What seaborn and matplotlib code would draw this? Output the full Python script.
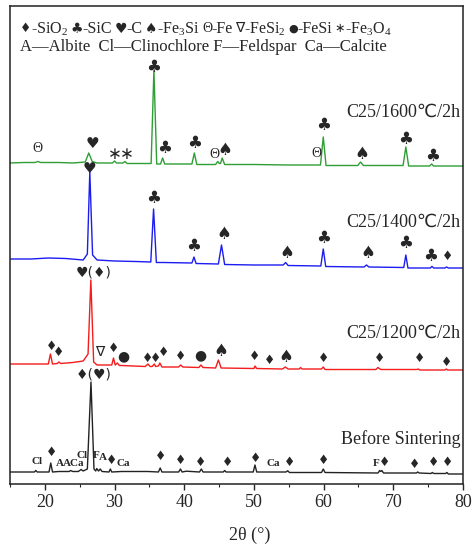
import matplotlib
matplotlib.use("Agg")
import matplotlib.pyplot as plt
import numpy as np
import pandas as pd
import seaborn as sns

# ---------------------------------------------------------------------------
# XRD patterns (2-theta in degrees, intensity in arbitrary units above each
# pattern's own baseline). Each pattern is stacked with a vertical offset.
# ---------------------------------------------------------------------------
tt_1600 = [15.0, 17.0, 18.6, 19.0, 19.4, 22.0, 24.0, 25.8, 26.3, 26.8, 27.5, 29.7, 30.0, 30.3,
           31.2, 31.5, 31.8, 33.5, 35.25, 35.65, 36.05, 36.6, 36.9, 37.2, 39.0, 41.1, 41.45, 41.8,
           44.5, 44.8, 45.05, 45.2, 45.45, 45.8, 50.0, 55.0, 59.55, 59.95, 60.35, 64.9, 65.3, 65.7,
           68.0, 71.4, 71.8, 72.2, 75.2, 75.5, 75.8, 78.0, 80.0]
ii_1600 = [0.0, 0.5, 0.5, 1.5, 0.5, 0.5, 0.0, 1.0, 10.0, 1.5, 0.0, 0.0, 2.0, 0.0,
           0.0, 1.5, -0.5, -0.5, -0.5, 93.0, -1.0, -1.0, 5.0, -1.0, -1.0, -1.0, 10.0, -1.5,
           -1.5, 1.5, -0.5, -0.5, 5.0, -1.5, -1.5, -2.0, -2.0, 26.0, -2.5, -2.5, 1.0, -2.5,
           -2.5, -2.5, 16.0, -3.0, -3.0, -1.0, -3.0, -3.0, -3.0]

tt_1400 = [15.0, 18.0, 20.5, 23.0, 25.5, 26.1, 26.45, 26.85, 27.5, 30.0, 33.0, 35.2, 35.6, 36.0,
           37.0, 41.1, 41.4, 41.7, 44.9, 45.35, 45.8, 50.0, 54.2, 54.55, 54.9, 59.6, 59.95, 60.3,
           65.8, 66.15, 66.5, 71.5, 71.8, 72.1, 75.3, 75.55, 75.8, 77.4, 77.65, 77.9, 80.0]
ii_1400 = [0.0, 0.0, 1.0, 0.5, -1.0, 5.0, 87.0, 4.0, -1.0, -2.0, -2.5, -3.0, 50.0, -3.5,
           -3.5, -4.0, 2.0, -4.5, -5.0, 14.0, -5.5, -6.0, -6.0, -3.5, -6.5, -7.0, 10.0, -7.5,
           -8.0, -6.0, -8.0, -8.5, 4.0, -9.0, -9.0, -7.5, -9.0, -9.0, -8.0, -9.0, -9.0]

tt_1200 = [15.0, 19.0, 20.5, 20.8, 21.1, 21.8, 22.0, 22.3, 24.0, 25.5, 26.2, 26.6, 27.0, 27.5,
           28.5, 29.6, 29.85, 30.1, 30.4, 30.7, 31.0, 34.4, 34.8, 35.1, 35.4, 35.7, 35.9, 36.3,
           36.5, 36.8, 39.2, 39.5, 39.8, 42.1, 42.4, 42.7, 44.5, 44.9, 45.3, 50.0, 50.15, 50.4,
           54.1, 54.5, 54.9, 56.5, 56.7, 56.9, 59.7, 59.95, 60.2, 67.5, 67.8, 68.2, 73.4, 73.6,
           73.8, 77.4, 77.6, 77.8, 80.0]
ii_1200 = [0.0, 0.0, 0.0, 10.0, 0.0, 0.5, 2.0, 0.5, 1.5, 3.0, 10.0, 84.0, 2.0, -1.0,
           -1.0, -1.0, 6.0, -1.0, 1.0, -1.5, -1.5, -2.5, 0.0, -2.5, -2.5, 0.0, -2.5, -2.0,
           1.0, -3.0, -3.0, -1.0, -3.0, -3.5, -1.0, -3.5, -4.0, 4.0, -4.0, -4.5, -2.0, -4.5,
           -5.0, -3.0, -5.0, -5.0, -3.5, -5.0, -5.0, -3.0, -5.5, -5.5, -3.5, -5.5, -5.5, -5.0,
           -6.0, -6.0, -5.0, -6.0, -6.0]

tt_raw = [15.0, 18.5, 18.7, 18.9, 20.6, 20.85, 21.1, 22.0, 23.5, 23.7, 24.0, 24.8, 25.2, 25.5,
          26.1, 26.62, 27.05, 27.3, 27.45, 27.7, 27.95, 28.2, 29.2, 29.4, 29.6, 31.0, 34.8, 36.3,
          36.55, 36.8, 39.2, 39.45, 39.7, 40.3, 42.2, 42.45, 42.7, 45.6, 45.8, 46.0, 49.9, 50.15,
          50.4, 54.6, 54.85, 55.1, 59.7, 59.95, 60.2, 67.8, 68.05, 68.2, 68.35, 68.6, 73.3, 73.5,
          73.7, 75.4, 75.6, 75.8, 77.5, 77.7, 77.9, 80.0]
ii_raw = [0.0, 0.0, 1.5, 0.0, 0.0, 9.0, 0.0, 0.5, 0.5, 1.5, 0.5, 0.5, 2.5, 1.0,
          3.0, 90.0, 3.0, 1.0, 3.5, 1.0, 3.0, 0.5, 0.0, 3.0, 0.0, 0.5, 0.5, 0.0,
          4.0, 0.0, 0.0, 3.0, 0.0, 0.8, 0.0, 3.0, 0.0, 0.0, 1.5, 0.0, 0.0, 7.0,
          0.0, 0.0, 1.2, -0.5, -0.5, 3.0, -0.5, -1.0, 1.5, 0.5, 1.5, -1.0, -1.0, 0.0,
          -1.0, -1.5, -0.5, -1.5, -1.5, -0.5, -2.0, -2.0]

sample_names = ["C25/1600\u2103/2h", "C25/1400\u2103/2h", "C25/1200\u2103/2h", "Before Sintering"]
stack_offsets = [321, 225, 120, 12]
line_colors = ["#2f9e35", "#1c1cf0", "#f51c1c", "#222222"]

# Phase markers: (2-theta, height above pattern baseline, marker)
marks_1600 = [(19.0, 15, "Θ"), (26.8, 20, "♥"), (30.05, 9, "∗"), (31.7, 9, "∗"),
              (35.65, 96, "♣"), (37.2, 15, "♣"), (41.5, 20, "♣"), (44.3, 9, "Θ"),
              (45.8, 13, "♠"), (58.9, 10, "Θ"), (60.0, 38, "♣"), (65.45, 9, "♠"),
              (71.8, 24, "♣"), (75.7, 7, "♣")]
marks_1400 = [(26.4, 91, "♥"), (35.55, 61, "♣"), (41.4, 13, "♣"), (45.7, 25, "♠"),
              (54.7, 6, "♠"), (60.0, 21, "♣"), (66.3, 6, "♠"), (71.8, 16, "♣"),
              (75.4, 3, "♣"), (77.8, 3, "♦")]
marks_1200 = [(27.0, 92, "♥(♦)"), (20.95, 17, "♦"), (22.0, 11, "♦"), (27.8, 11, "∇"),
              (29.9, 15, "♦"), (31.2, 8, "●"), (34.7, 5, "♦"), (35.9, 6, "♦"),
              (37.1, 11, "♦"), (39.5, 7, "♦"), (42.35, 9, "●"), (45.3, 13, "♠"),
              (50.1, 8, "♦"), (52.3, 3, "♦"), (54.6, 7, "♠"), (59.95, 6, "♦"),
              (68.0, 6, "♦"), (73.7, 6, "♦"), (77.6, 2, "♦")]
marks_raw = [(27.0, 97, "♦(♥)"), (18.9, 10, "Cl"), (20.95, 19, "♦"), (22.15, 9, "A"),
             (24.2, 9, "ACa"), (25.3, 17, "Cl"), (27.4, 17, "F"), (28.3, 14, "A"),
             (29.5, 12, "♦"), (31.3, 9, "Ca"), (36.6, 15, "♦"), (39.5, 12, "♦"),
             (42.4, 10, "♦"), (46.2, 9, "♦"), (50.2, 14, "♦"), (52.8, 9, "Ca"),
             (55.1, 9, "♦"), (60.05, 11, "♦"), (67.6, 9, "F"), (68.8, 10, "♦"),
             (73.1, 8, "♦"), (75.8, 9, "♦"), (77.8, 10, "♦")]

legend_keys = ["♦", "♣", "♥", "♠", "Θ", "∇", "●", "∗"]
legend_phases = ["-SiO$_2$", "-SiC", "-C", "-Fe$_3$Si", "-Fe", "-FeSi$_2$", "-FeSi", "-Fe$_3$O$_4$"]
mineral_line = "A\u2014Albite  Cl\u2014Clinochlore F\u2014Feldspar  Ca\u2014Calcite"

x_ticks = [20, 30, 40, 50, 60, 70, 80]

# ---------------------------------------------------------------------------
sns.set_style("ticks")
plt.rcParams["font.family"] = ["Liberation Serif", "DejaVu Sans"]
plt.rcParams["mathtext.fontset"] = "custom"
plt.rcParams["mathtext.rm"] = "Liberation Serif"
plt.rcParams["mathtext.it"] = "Liberation Serif:italic"
plt.rcParams["mathtext.bf"] = "Liberation Serif:bold"

frames = []
for name, tt, ii, off in zip(sample_names,
                             [tt_1600, tt_1400, tt_1200, tt_raw],
                             [ii_1600, ii_1400, ii_1200, ii_raw],
                             stack_offsets):
    frames.append(pd.DataFrame({"two_theta": tt,
                                "intensity": np.asarray(ii) + off,
                                "sample": name}))
df = pd.concat(frames, ignore_index=True)

W, H = 474, 544
fig = plt.figure(figsize=(W / 100, H / 100), dpi=100)
ax = fig.add_axes([10 / W, 60 / H, 453 / W, 478 / H])

sns.lineplot(data=df, x="two_theta", y="intensity", hue="sample",
             palette=dict(zip(sample_names, line_colors)), sort=False,
             estimator=None, linewidth=1.0, legend=False, ax=ax)

ax.set_xlim(15, 80)
ax.set_ylim(0, 478)
ax.set_xticks(x_ticks)
ax.set_xticks(np.arange(15, 81, 5), minor=True)
ax.set_yticks([])
ax.set_ylabel("")
ax.set_xlabel("2θ (°)", fontsize=13)
ax.xaxis.set_label_coords(0.53, -0.09)
ax.tick_params(axis="x", which="major", direction="out", length=4.5, width=1.0,
               labelsize=13, pad=3, bottom=True, top=False)
ax.tick_params(axis="x", which="minor", direction="out", length=2.5, width=0.8,
               bottom=True, top=False)
for sp in ax.spines.values():
    sp.set_visible(True)
    sp.set_linewidth(1.1)
    sp.set_color("#222222")

sym_font = {"♦": 9, "♣": 12, "♥": 11, "♠": 12, "Θ": 10, "∇": 10, "●": 10, "∗": 12}
mineral_codes = {"Cl", "A", "ACa", "F", "Ca"}


def put_mark(x, y, s):
    if s in mineral_codes:
        ax.text(x, y, s, ha="center", va="center", fontsize=8, fontweight="bold",
                family=["Liberation Serif"])
    elif s in ("Θ", "∇"):
        ax.text(x, y, s, ha="center", va="center", fontsize=sym_font[s],
                family=["Liberation Serif", "DejaVu Sans"])
    elif len(s) > 1:
        ax.text(x, y, s, ha="center", va="center", fontsize=10,
                family=["DejaVu Sans"])
    else:
        ax.text(x, y, s, ha="center", va="center", fontsize=sym_font[s],
                family=["DejaVu Sans"])


for marks, off in zip([marks_1600, marks_1400, marks_1200, marks_raw], stack_offsets):
    for x, h, s in marks:
        put_mark(x, off + h, s)

# sample names at the right of each pattern
name_y = [372, 262, 151, 45]
for name, y in zip(sample_names, name_y):
    ax.text(79.6, y, name, ha="right", va="center", fontsize=13,
            family=["Liberation Serif", "DejaVu Sans"])

# phase key across the top of the frame, laid out piece after piece
key_size = {"♦": 9, "♣": 10, "♥": 10, "♠": 10, "Θ": 10, "∇": 10, "●": 8, "∗": 9}
renderer = fig.canvas.get_renderer()
cursor = 20.0
key_y = 1 - 29 / H
for k, p in zip(legend_keys, legend_phases):
    fam = ["Liberation Serif", "DejaVu Sans"] if k in ("Θ", "∇") else ["DejaVu Sans"]
    t = fig.text(cursor / W, key_y, k, ha="left", va="center",
                 fontsize=key_size[k], family=fam)
    cursor = t.get_window_extent(renderer).x1 - 0.5
    t = fig.text(cursor / W, key_y, p, ha="left", va="center", fontsize=11.5)
    cursor = t.get_window_extent(renderer).x1 + 2.5
fig.text(20 / W, 1 - 47 / H, mineral_line, ha="left", va="center", fontsize=12)

fig.savefig("out.png", dpi=100)
